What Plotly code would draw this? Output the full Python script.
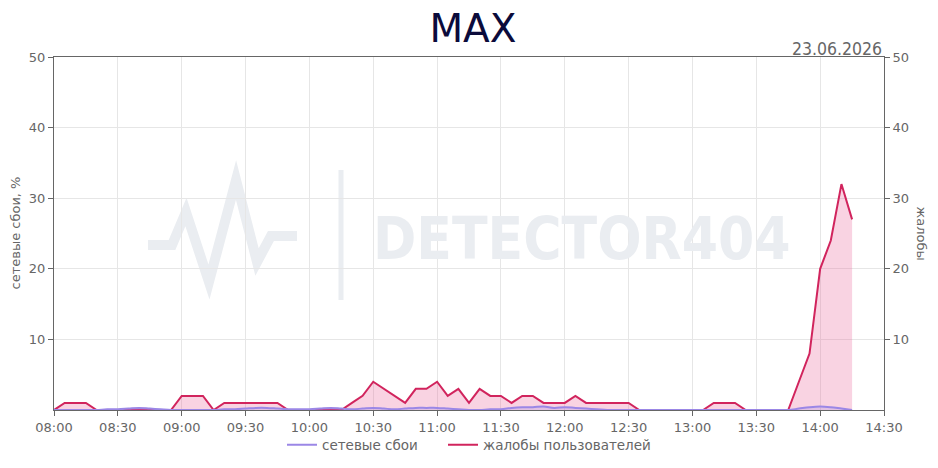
import pandas as pd
import plotly.graph_objects as go

# 5-minute samples, 08:00 .. 14:15
times = pd.date_range("2026-06-23 08:00", periods=76, freq="5min")

# user complaints (right axis)
complaints = [
    0, 1, 1, 1, 0, 0, 0, 0, 0, 0, 0, 0,          # 08:xx
    2, 2, 2, 0, 1, 1, 1, 1, 1, 1, 0, 0,          # 09:xx
    0, 0, 0, 0, 1, 2, 4, 3, 2, 1, 3, 3,          # 10:xx
    4, 2, 3, 1, 3, 2, 2, 1, 2, 2, 1, 1,          # 11:xx
    1, 2, 1, 1, 1, 1, 1, 0, 0, 0, 0, 0,          # 12:xx
    0, 0, 1, 1, 1, 0, 0, 0, 0, 0, 4, 8,          # 13:xx
    20, 24, 32, 27,                              # 14:xx
]

# network failures, % (left axis)
network = [
    0, 0, 0, 0, 0, 0.1, 0.1, 0.2, 0.3, 0.2, 0.1, 0,
    0, 0, 0, 0, 0.1, 0.1, 0.2, 0.3, 0.3, 0.2, 0.1, 0.1,
    0.1, 0.2, 0.3, 0.2, 0.1, 0.2, 0.3, 0.2, 0.1, 0.2, 0.3, 0.3,
    0.3, 0.2, 0.1, 0, 0, 0.1, 0.1, 0.3, 0.4, 0.4, 0.5, 0.3,
    0.4, 0.3, 0.2, 0.1, 0, 0, 0, 0, 0, 0, 0, 0,
    0, 0, 0, 0, 0, 0, 0, 0, 0, 0, 0.2, 0.4,
    0.5, 0.4, 0.2, 0,
]

y_ticks = [10, 20, 30, 40, 50]
x_ticks = pd.date_range("2026-06-23 08:00", "2026-06-23 14:30", freq="30min")

GRAY = "#666666"
WM = "#eaedf1"
PINK = "#d1245d"
PURPLE = "#9b87e6"

# page body has an 8px margin, so the figure is a bit smaller than the window
W, H = 930, 460
L, R, T, B = 46, 54, 49, 58

fig = go.Figure()

# filled areas (no legend entry)
fig.add_trace(go.Scatter(
    x=times, y=complaints, mode="none", fill="tozeroy",
    fillcolor="rgba(236, 110, 160, 0.3)", yaxis="y",
    showlegend=False, hoverinfo="skip",
))
fig.add_trace(go.Scatter(
    x=times, y=complaints, name="жалобы пользователей",
    mode="lines", line=dict(color=PINK, width=2),
    yaxis="y", legend="legend2",
))
fig.add_trace(go.Scatter(
    x=times, y=network, mode="none", fill="tozeroy",
    fillcolor="rgba(155, 135, 230, 0.25)", line=dict(shape="spline"),
    yaxis="y2", showlegend=False, hoverinfo="skip",
))
fig.add_trace(go.Scatter(
    x=times, y=network, name="сетевые сбои",
    mode="lines", line=dict(color=PURPLE, width=2, shape="spline"),
    yaxis="y2", legend="legend",
))

leg_style = dict(orientation="h", xanchor="left", yref="container",
                 y=23 / H, yanchor="middle", font=dict(size=13.5, color=GRAY),
                 itemwidth=30, bgcolor="rgba(0,0,0,0)")

fig.update_layout(
    width=W, height=H,
    margin=dict(l=L, r=R, t=T, b=B, autoexpand=False),
    paper_bgcolor="white", plot_bgcolor="white",
    font=dict(family="DejaVu Sans", size=13, color=GRAY),
    title=dict(text="MAX", x=0.5, xanchor="center", yref="container",
               y=1 - 20 / H, yanchor="middle",
               font=dict(family="DejaVu Sans", size=39, color="#0b0b3b")),
    xaxis=dict(
        type="date", range=[x_ticks[0], x_ticks[-1]],
        tickvals=x_ticks, tickformat="%H:%M", automargin=False,
        showgrid=True, gridcolor="#e6e6e6",
        showline=True, linecolor=GRAY, mirror=True,
        ticks="outside", ticklen=5, tickcolor=GRAY,
    ),
    yaxis=dict(
        side="right", range=[0, 50], tickvals=y_ticks, automargin=False,
        showgrid=True, gridcolor="#e6e6e6", zeroline=False,
        showline=True, linecolor=GRAY,
        ticks="outside", ticklen=5, tickcolor=GRAY,
    ),
    yaxis2=dict(
        overlaying="y", side="left", range=[0, 50], tickvals=y_ticks,
        automargin=False, showgrid=False, zeroline=False,
        showline=True, linecolor=GRAY,
        ticks="outside", ticklen=5, tickcolor=GRAY,
    ),
    legend=dict(x=(274 - L) / (W - L - R), **leg_style),
    legend2=dict(x=(435 - L) / (W - L - R), **leg_style),
    showlegend=True,
)

# axis titles
fig.add_annotation(text="сетевые сбои, %", xref="paper", yref="paper", x=0, y=0.5,
                   xanchor="center", yanchor="middle", xshift=-39, textangle=-90,
                   showarrow=False, font=dict(size=13, color=GRAY))
fig.add_annotation(text="жалобы", xref="paper", yref="paper", x=1.0, y=0.5,
                   xanchor="center", yanchor="middle", xshift=37, textangle=90,
                   showarrow=False, font=dict(size=13, color=GRAY))

# date in the top right corner
fig.add_annotation(text="23.06.2026", xref="paper", yref="paper", x=1.0, y=1.0,
                   xanchor="right", yanchor="bottom", showarrow=False, yshift=-4,
                   font=dict(family="DejaVu Sans Condensed, DejaVu Sans", size=17.5, color=GRAY))

# watermark (positions in screen pixels of the plot area)
def px(xp, yp):
    return (xp - 54) / (W - L - R), (410 - yp) / (H - T - B)

pulse = [(148, 245), (172, 245), (186, 212), (209, 282), (236, 180),
         (257, 262), (271, 236), (297, 236)]
path = ""
for i, (a, b) in enumerate(pulse):
    u, v = px(a, b)
    path += ("M" if i == 0 else " L") + f"{u:.4f},{v:.4f}"
fig.add_shape(type="path", path=path, xref="paper", yref="paper",
              line=dict(color=WM, width=10), layer="below")
x0, y0 = px(341, 170)
x1, y1 = px(341, 300)
fig.add_shape(type="line", x0=x0, x1=x1, y0=y0, y1=y1, xref="paper", yref="paper",
              line=dict(color=WM, width=5), layer="below")
tx, ty = px(582, 239)
fig.add_annotation(text="<b>DETECTOR404</b>", xref="paper", yref="paper", x=tx, y=ty,
                   showarrow=False,
                   font=dict(family="DejaVu Sans Condensed, DejaVu Sans", size=58, color=WM))

fig.write_html("out.html")
